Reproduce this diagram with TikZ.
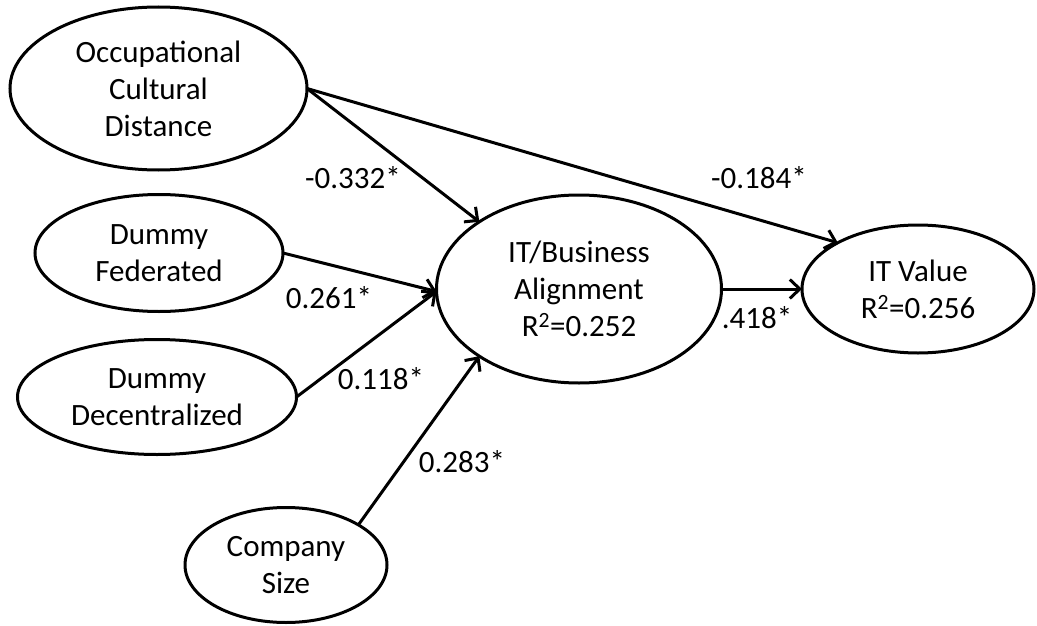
\documentclass[tikz,border=0pt]{standalone}
\usepackage{fontspec}
\setmainfont{Carlito}
\usetikzlibrary{shapes.geometric,arrows.meta}
\tikzset{
  construct/.style={draw=black, line width=3pt, ellipse, inner sep=0pt, outer sep=0pt,
    align=center, font=\fontsize{31}{37}\selectfont},
  path/.style={draw=black, line width=3pt,
    -{Straight Barb[length=10pt,width=19pt,line width=3pt]}},
  coef/.style={font=\fontsize{31}{37}\selectfont, inner sep=0pt}
}
\begin{document}
\begin{tikzpicture}[x=1pt,y=-1pt]
\useasboundingbox (0,0) rectangle (1037,626);
% latent constructs
\node[construct, minimum width=297pt, minimum height=163pt] (occ) at (158.5,88.5) {Occupational\\Cultural\\Distance};
\node[construct, minimum width=248pt, minimum height=117pt] (fed) at (159,253) {Dummy\\Federated};
\node[construct, minimum width=279pt, minimum height=115pt] (dec) at (157,397) {Dummy\\Decentralized};
\node[construct, minimum width=202pt, minimum height=115pt] (comp) at (286,565) {Company\\Size};
\node[construct, minimum width=285pt, minimum height=188pt] (itba) at (579,289) {IT/Business\\Alignment\\R\textsuperscript{2}=0.252};
\node[construct, minimum width=232pt, minimum height=128pt] (itv) at (918,289) {IT Value\\R\textsuperscript{2}=0.256};
% structural paths
\draw[path] (occ.east) -- (itba.146.7);
\draw[path] (occ.east) -- (itv.150.5);
\draw[path] (fed.east) -- (itba.181);
\draw[path] (dec.east) -- (itba.181);
\draw[path] (comp.29) -- (itba.214);
\draw[path] (itba.east) -- (itv.west);
% path coefficients
\node[coef] (c1) at (353,178) {-0.332*};
\node[coef] (c2) at (759,178) {-0.184*};
\node[coef] (c3) at (329,298) {0.261*};
\node[coef] (c4) at (381,379) {0.118*};
\node[coef] (c5) at (462,462) {0.283*};
\node[coef] (c6) at (757,318) {.418*};
\end{tikzpicture}
\end{document}
